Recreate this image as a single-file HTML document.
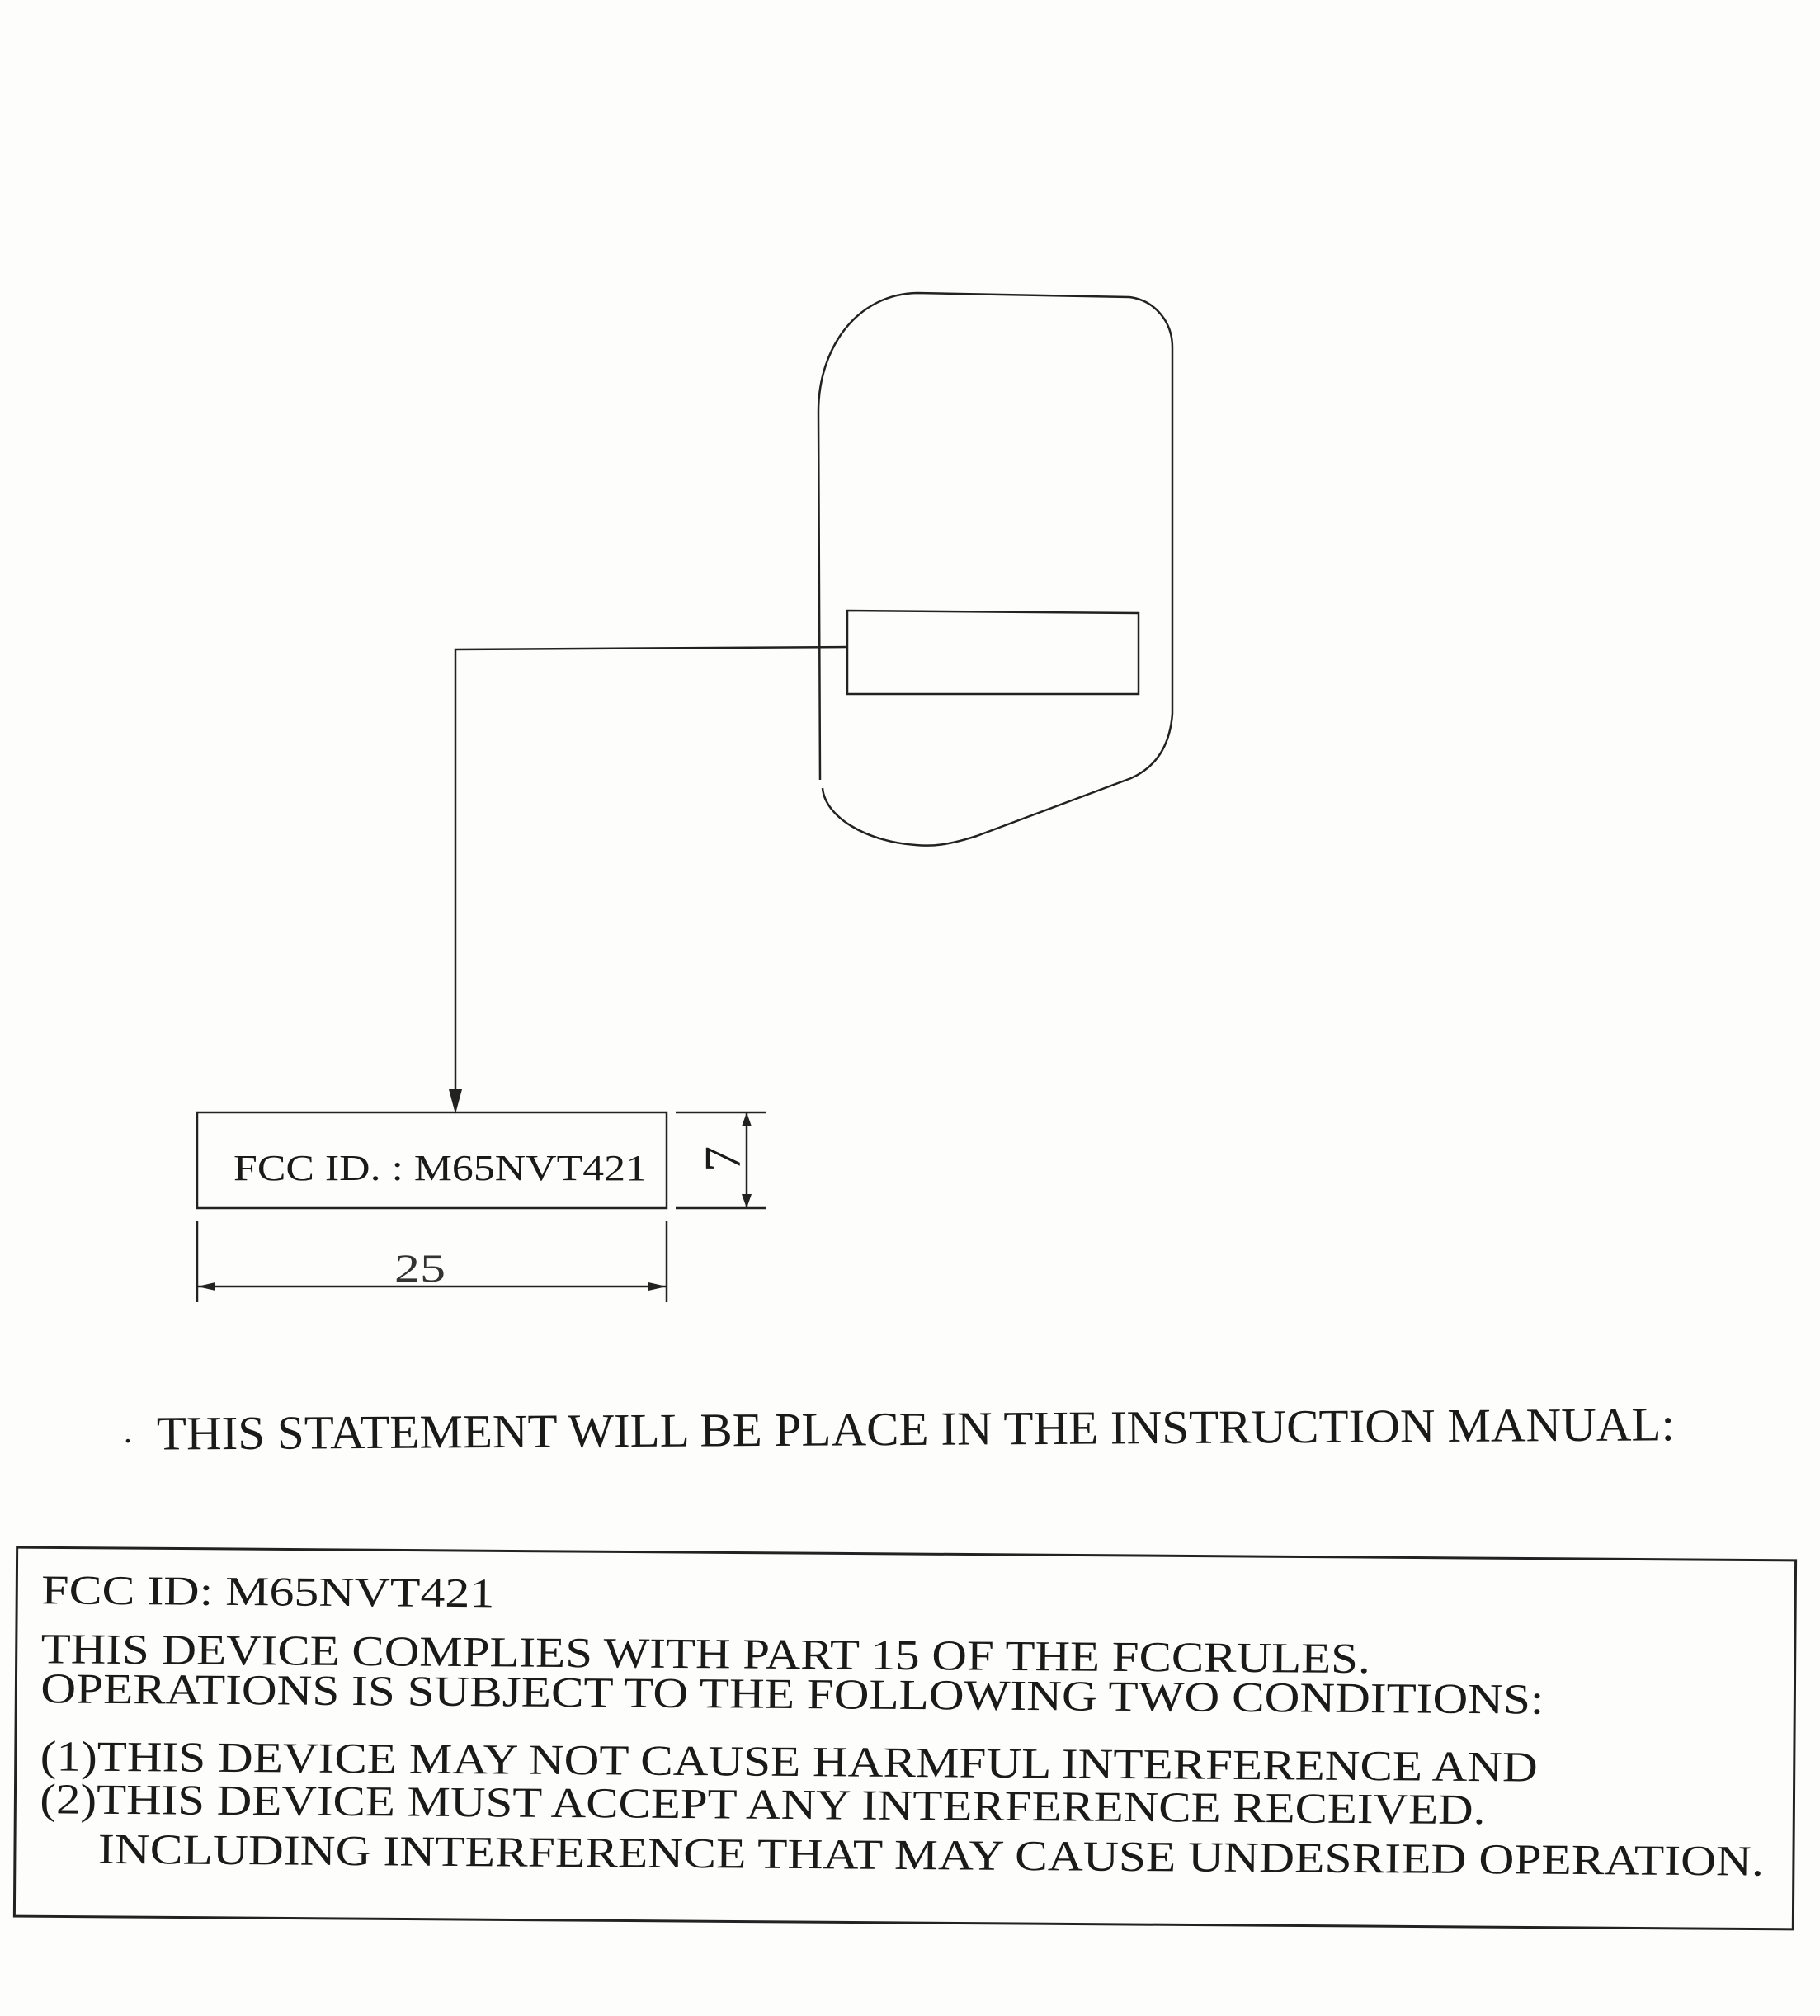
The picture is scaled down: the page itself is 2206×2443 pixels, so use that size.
<!DOCTYPE html>
<html><head><meta charset="utf-8"><style>
html,body{margin:0;padding:0;background:#fdfdfb;}
svg{display:block}
text{font-family:"Liberation Serif",serif;fill:#1a1a1a}
</style></head><body>
<svg width="2206" height="2443" viewBox="0 0 2206 2443" xmlns="http://www.w3.org/2000/svg">
<rect width="2206" height="2443" fill="#fdfdfb"/>
<g fill="none" stroke="#222" stroke-width="2.5">
<!-- blob -->
<path d="M994,945 L992,499 C992,420 1040,356 1112,355 L1369,360 C1400,364 1421,390 1421,421 L1421,865 C1418,905 1400,930 1371,943 L1184,1013 C1150,1024 1130,1026 1110,1024 C1050,1020 1000,990 997,955"/>
<!-- inner rect -->
<path d="M1027,740 L1380,743 L1380,841 L1027,841 Z"/>
<!-- connector -->
<path d="M1027,784 L552,787 L552,1330"/>
<!-- label box -->
<rect x="239" y="1348" width="569" height="116"/>
<!-- 7 dimension -->
<path d="M819,1348 L928,1348 M819,1464 L928,1464 M905,1348 L905,1464"/>
<!-- 25 dimension -->
<path d="M239,1480 L239,1578 M808,1480 L808,1578 M239,1559 L808,1559"/>
</g>
<path d="M544,1320 L560,1320 L552,1350 Z" fill="#222"/>
<path d="M905,1348 L899,1365 L911,1365 Z M905,1464 L899,1447 L911,1447 Z" fill="#222"/>
<path d="M239,1559 L261,1554 L261,1564 Z M808,1559 L786,1554 L786,1564 Z" fill="#222"/>
<text x="283" y="1430" font-size="44" textLength="501" lengthAdjust="spacingAndGlyphs">FCC ID. : M65NVT421</text>
<text x="0" y="0" font-size="62" transform="translate(897,1420) rotate(-90)">7</text>
<text x="478" y="1553" font-size="48" font-family="Liberation Sans" style="fill:#333" textLength="62" lengthAdjust="spacingAndGlyphs">25</text>

<g transform="rotate(-0.35 1100 1745)">
<text x="190" y="1751" font-size="58" textLength="1840" lengthAdjust="spacingAndGlyphs">THIS STATEMENT WILL BE PLACE IN THE INSTRUCTION MANUAL:</text>
</g>
<text x="150" y="1748" font-size="40">.</text>

<g transform="translate(0,6) rotate(0.42 1100 2100)">
<path d="M19,1877 L2175,1877 L2175,2324 L19,2324 Z" fill="none" stroke="#222" stroke-width="3"/>
<text x="49" y="1945" font-size="50" textLength="549" lengthAdjust="spacingAndGlyphs">FCC ID:  M65NVT421</text>
<text x="49" y="2017" font-size="52" textLength="1611" lengthAdjust="spacingAndGlyphs">THIS DEVICE COMPLIES WITH PART 15 OF THE FCCRULES.</text>
<text x="49" y="2065" font-size="52" textLength="1822" lengthAdjust="spacingAndGlyphs">OPERATIONS IS SUBJECT TO THE FOLLOWING TWO CONDITIONS:</text>
<text x="49" y="2147" font-size="52" textLength="1815" lengthAdjust="spacingAndGlyphs">(1)THIS DEVICE MAY NOT CAUSE HARMFUL INTERFERENCE AND</text>
<text x="49" y="2199" font-size="52" textLength="1752" lengthAdjust="spacingAndGlyphs">(2)THIS DEVICE MUST ACCEPT ANY INTERFERENCE RECEIVED.</text>
<text x="120" y="2259" font-size="52" textLength="2019" lengthAdjust="spacingAndGlyphs">INCLUDING INTERFERENCE THAT MAY CAUSE UNDESRIED OPERATION.</text>
</g>
</svg>
</body></html>
